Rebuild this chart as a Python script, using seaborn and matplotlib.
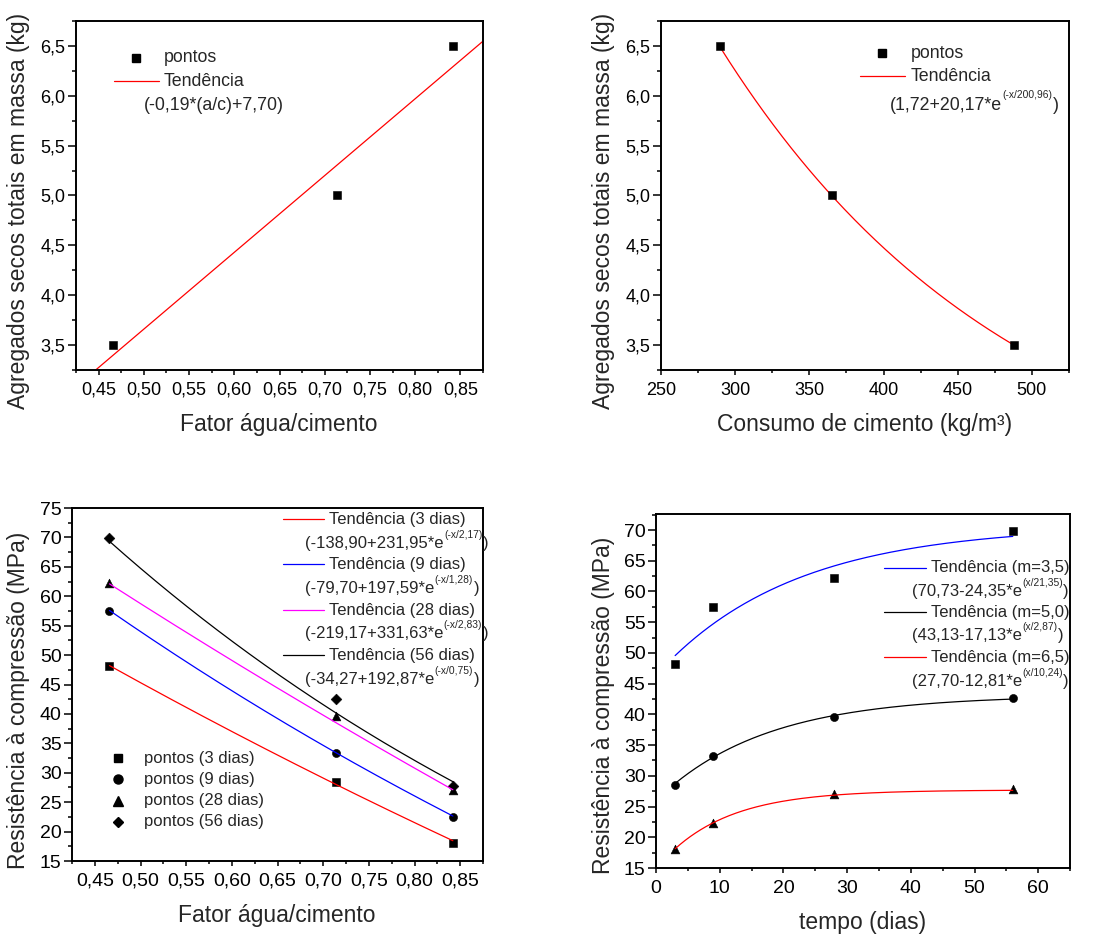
import numpy as np
import pandas as pd
import matplotlib
matplotlib.use("Agg")
import matplotlib.pyplot as plt
import seaborn as sns
from matplotlib.ticker import MultipleLocator, FuncFormatter
from matplotlib.lines import Line2D

# ---------------- data ----------------
fator_ac = [0.466, 0.714, 0.842]
agregados_por_fator = [3.5, 5.0, 6.5]
consumo_cimento = [290, 365, 488]
agregados_por_consumo = [6.5, 5.0, 3.5]

idades = [3, 9, 28, 56]
idade_labels = ["3 dias", "9 dias", "28 dias", "56 dias"]
resist_3d = [48.2, 28.5, 18.1]
resist_9d = [57.5, 33.3, 22.4]
resist_28d = [62.2, 39.6, 27.0]
resist_56d = [69.9, 42.6, 27.8]
traco_m = ["3,5", "5,0", "6,5"]

# trend coefficients (as printed in the chart)
lin_slope, lin_inter = 7.70, -0.19
cons_y0, cons_a, cons_t = 1.72, 20.17, 200.96
fac_y0 = [-138.90, -79.70, -219.17, -34.27]
fac_a = [231.95, 197.59, 331.63, 192.87]
fac_t = [2.17, 1.28, 2.83, 0.75]
tempo_y0 = [70.73, 43.13, 27.70]
tempo_a = [24.35, 17.13, 12.81]
tempo_t_label = [21.35, 2.87, 10.24]
tempo_t_curve = [21.35, 17.0, 10.24]

# ---------------- style ----------------
sns.set_style("ticks")
plt.rcParams["font.family"] = ["Liberation Sans", "DejaVu Sans"]
FS_TICK = 13
FS_TICK2 = 14
FS_LAB = 16.5
FS_LEG = 12.8
FS_LEG2 = 12
FS_SUP = 7.4
LW = 0.9
fmt = lambda d: FuncFormatter(lambda v, p: f"{v:.{d}f}".replace(".", ","))
num = lambda v: f"{v:.2f}".replace(".", ",")

fig = plt.figure(figsize=(11, 9.36), dpi=100)
ax1 = fig.add_axes([0.0691, 0.6047, 0.3700, 0.3729])
ax2 = fig.add_axes([0.6009, 0.6047, 0.3709, 0.3729])
ax3 = fig.add_axes([0.0655, 0.0801, 0.3736, 0.3771])
ax4 = fig.add_axes([0.5964, 0.0726, 0.3764, 0.3782])


def style_axis(ax, fs):
    for s in ax.spines.values():
        s.set_linewidth(1.4)
        s.set_color("black")
    ax.tick_params(axis="both", which="both", direction="out", top=False, right=False,
                   colors="black", width=1.1, labelsize=fs)
    ax.tick_params(axis="y", which="major", length=5.5, pad=2)
    ax.tick_params(axis="y", which="minor", length=3)
    ax.tick_params(axis="x", which="major", length=3.5, pad=5)
    ax.tick_params(axis="x", which="minor", length=2.5)


def set_labels(ax, xl, yl, xpos, ypos):
    ax.set_xlabel(xl, fontsize=FS_LAB)
    ax.set_ylabel(yl, fontsize=FS_LAB)
    ax.xaxis.set_label_coords(*xpos)
    ax.yaxis.set_label_coords(*ypos)
    ax.xaxis.label.set_va("center")
    ax.yaxis.label.set_va("center")


def leg_line(ax, x0, x1, y, color):
    ax.add_line(Line2D([x0, x1], [y, y], transform=ax.transAxes, color=color, lw=LW, clip_on=False))


def leg_marker(ax, x, y, marker, ms=6):
    ax.add_line(Line2D([x], [y], transform=ax.transAxes, marker=marker, color="black",
                       ms=ms, ls="none", clip_on=False))


def leg_text(ax, x, y, s, fs=FS_LEG):
    return ax.text(x, y, s, transform=ax.transAxes, va="center", ha="left", fontsize=fs)


def leg_eq(ax, x, y, main, sup, fs=FS_LEG):
    t = leg_text(ax, x, y, main, fs)
    s = ax.annotate(sup, xy=(1, 1), xycoords=t, xytext=(0.3, 4.5), textcoords="offset points",
                    va="top", ha="left", fontsize=FS_SUP)
    ax.annotate(")", xy=(1, 0), xycoords=(s, t), xytext=(0.3, 0), textcoords="offset points",
                va="bottom", ha="left", fontsize=fs)


# ---------------- plot 1 ----------------
style_axis(ax1, FS_TICK)
sns.scatterplot(x=fator_ac, y=agregados_por_fator, marker="s", color="black", s=30,
                edgecolor="black", linewidth=0.4, ax=ax1, zorder=3, legend=False)
xs = np.linspace(0.425, 0.875, 50)
sns.lineplot(x=xs, y=lin_slope * xs + lin_inter, color="red", lw=LW, ax=ax1,
             sort=False, estimator=None)
ax1.set_xlim(0.425, 0.875)
ax1.set_ylim(3.25, 6.75)
ax1.xaxis.set_major_locator(MultipleLocator(0.05))
ax1.xaxis.set_minor_locator(MultipleLocator(0.025))
ax1.yaxis.set_major_locator(MultipleLocator(0.5))
ax1.yaxis.set_minor_locator(MultipleLocator(0.25))
ax1.xaxis.set_major_formatter(fmt(2))
ax1.yaxis.set_major_formatter(fmt(1))
set_labels(ax1, "Fator água/cimento", "Agregados secos totais em massa (kg)",
           (0.499, -0.155), (-0.1425, 0.456))
leg_marker(ax1, 0.1474, 0.894, "s")
leg_text(ax1, 0.2162, 0.894, "pontos")
leg_line(ax1, 0.0934, 0.2039, 0.828, "red")
leg_text(ax1, 0.2162, 0.828, "Tendência")
leg_text(ax1, 0.167, 0.759, "(-0,19*(a/c)+7,70)")

# ---------------- plot 2 ----------------
style_axis(ax2, FS_TICK)
sns.scatterplot(x=consumo_cimento, y=agregados_por_consumo, marker="s", color="black", s=30,
                edgecolor="black", linewidth=0.4, ax=ax2, zorder=3, legend=False)
xs = np.linspace(min(consumo_cimento), max(consumo_cimento), 200)
sns.lineplot(x=xs, y=cons_y0 + cons_a * np.exp(-xs / cons_t), color="red", lw=LW, ax=ax2,
             sort=False, estimator=None)
ax2.set_xlim(250, 525)
ax2.set_ylim(3.25, 6.75)
ax2.xaxis.set_major_locator(MultipleLocator(50))
ax2.xaxis.set_minor_locator(MultipleLocator(25))
ax2.yaxis.set_major_locator(MultipleLocator(0.5))
ax2.yaxis.set_minor_locator(MultipleLocator(0.25))
ax2.yaxis.set_major_formatter(fmt(1))
set_labels(ax2, "Consumo de cimento (kg/m³)", "Agregados secos totais em massa (kg)",
           (0.5, -0.155), (-0.142, 0.456))
leg_marker(ax2, 0.5417, 0.908, "s")
leg_text(ax2, 0.612, 0.908, "pontos")
leg_line(ax2, 0.4877, 0.598, 0.842, "red")
leg_text(ax2, 0.612, 0.842, "Tendência")
leg_eq(ax2, 0.561, 0.759, f"({num(cons_y0)}+{num(cons_a)}*e", f"(-x/{num(cons_t)})")

# ---------------- plot 3 ----------------
style_axis(ax3, FS_TICK2)
resist = [resist_3d, resist_9d, resist_28d, resist_56d]
markers3 = ["s", "o", "^", "D"]
sizes3 = [30, 34, 40, 30]
colors3 = ["red", "blue", "magenta", "black"]
xs = np.linspace(min(fator_ac), max(fator_ac), 200)
for i in range(4):
    sns.scatterplot(x=fator_ac, y=resist[i], marker=markers3[i], color="black", s=sizes3[i],
                    edgecolor="black", linewidth=0.4, ax=ax3, zorder=2, legend=False)
for i in range(4):
    sns.lineplot(x=xs, y=fac_y0[i] + fac_a[i] * np.exp(-xs / fac_t[i]), color=colors3[i],
                 lw=LW, ax=ax3, sort=False, estimator=None, zorder=3)
ax3.set_xlim(0.425, 0.875)
ax3.set_ylim(15, 75)
ax3.xaxis.set_major_locator(MultipleLocator(0.05))
ax3.xaxis.set_minor_locator(MultipleLocator(0.025))
ax3.yaxis.set_major_locator(MultipleLocator(5))
ax3.yaxis.set_minor_locator(MultipleLocator(2.5))
ax3.xaxis.set_major_formatter(fmt(2))
set_labels(ax3, "Fator água/cimento", "Resistência à compressão (MPa)",
           (0.499, -0.153), (-0.131, 0.456))
ys_leg = [0.968, 0.8405, 0.711, 0.5836]
ys_eq = [0.9, 0.7725, 0.645, 0.5147]
for i in range(4):
    leg_line(ax3, 0.513, 0.613, ys_leg[i], colors3[i])
    leg_text(ax3, 0.625, ys_leg[i], f"Tendência ({idade_labels[i]})", FS_LEG2)
    leg_eq(ax3, 0.567, ys_eq[i], f"({num(fac_y0[i])}+{num(fac_a[i])}*e",
           f"(-x/{num(fac_t[i])})", FS_LEG2)
ys_pts = [0.291, 0.231, 0.171, 0.111]
ms3 = [5.5, 6.5, 6.5, 5.5]
for i in range(4):
    leg_marker(ax3, 0.112, ys_pts[i], markers3[i], ms3[i])
    leg_text(ax3, 0.175, ys_pts[i], f"pontos ({idade_labels[i]})", FS_LEG2)

# ---------------- plot 4 ----------------
style_axis(ax4, FS_TICK2)
por_traco = [[r[j] for r in resist] for j in range(3)]
markers4 = ["s", "o", "^"]
sizes4 = [30, 34, 40]
colors4 = ["blue", "black", "red"]
ts = np.linspace(min(idades), max(idades), 200)
for j in range(3):
    sns.scatterplot(x=idades, y=por_traco[j], marker=markers4[j], color="black", s=sizes4[j],
                    edgecolor="black", linewidth=0.4, ax=ax4, zorder=2, legend=False)
for j in range(3):
    sns.lineplot(x=ts, y=tempo_y0[j] - tempo_a[j] * np.exp(-ts / tempo_t_curve[j]),
                 color=colors4[j], lw=LW, ax=ax4, sort=False, estimator=None, zorder=3)
ax4.set_xlim(0, 65)
ax4.set_ylim(15, 72.6)
ax4.xaxis.set_major_locator(MultipleLocator(10))
ax4.xaxis.set_minor_locator(MultipleLocator(5))
ax4.yaxis.set_major_locator(MultipleLocator(5))
ax4.yaxis.set_minor_locator(MultipleLocator(2.5))
set_labels(ax4, "tempo (dias)", "Resistência à compressão (MPa)",
           (0.5, -0.1525), (-0.128, 0.46))
ys_leg4 = [0.849, 0.722, 0.596]
ys_eq4 = [0.780, 0.656, 0.526]
for j in range(3):
    leg_line(ax4, 0.551, 0.652, ys_leg4[j], colors4[j])
    leg_text(ax4, 0.6635, ys_leg4[j], f"Tendência (m={traco_m[j]})", FS_LEG2)
    leg_eq(ax4, 0.6176, ys_eq4[j], f"({num(tempo_y0[j])}-{num(tempo_a[j])}*e",
           f"(x/{num(tempo_t_label[j])})", FS_LEG2)

fig.savefig("out.png", dpi=100)
